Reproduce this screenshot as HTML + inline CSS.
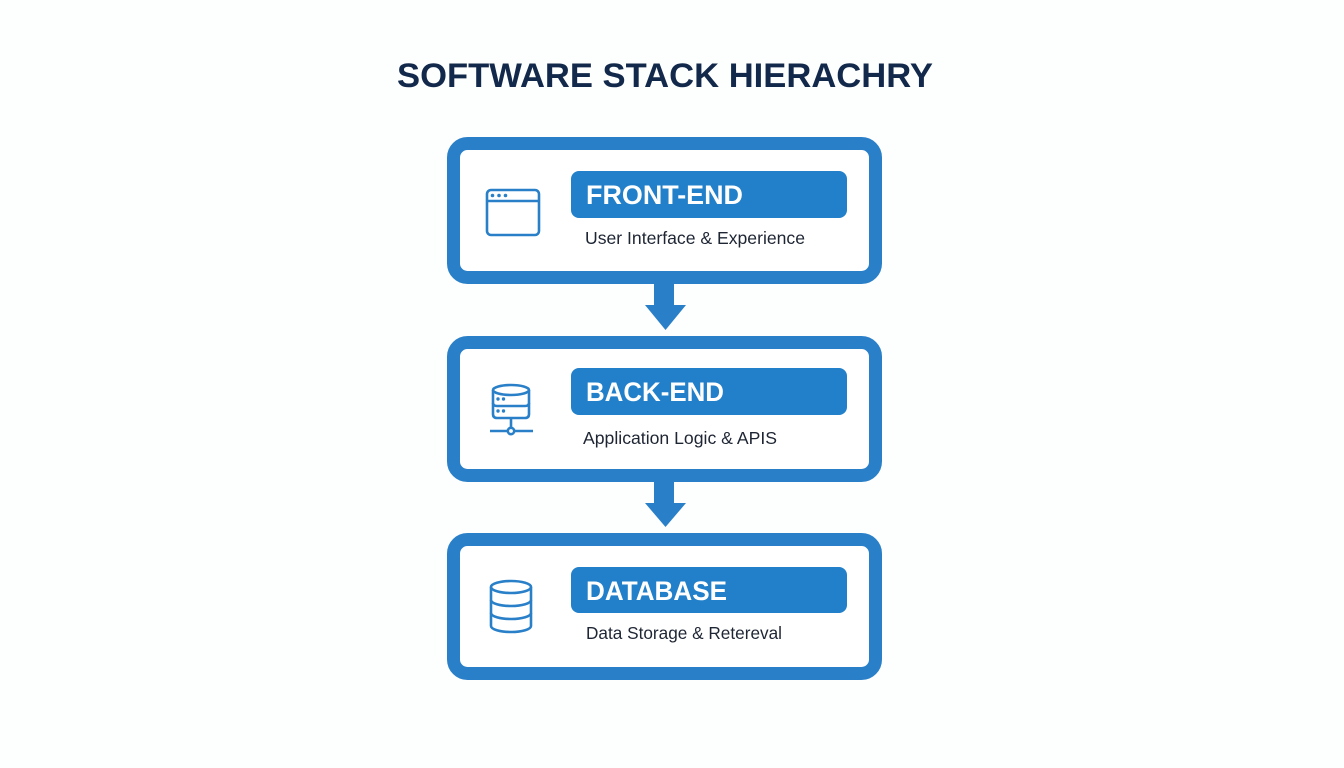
<!DOCTYPE html>
<html>
<head>
<meta charset="utf-8">
<style>
  html, body { margin: 0; padding: 0; background: #fdfefe; }
  body { width: 1344px; height: 768px; overflow: hidden; }
  svg { display: block; }
  .title { font-family: "Liberation Sans", sans-serif; font-weight: bold; fill: #13294b; }
  .pill { font-family: "Liberation Sans", sans-serif; font-weight: bold; fill: #ffffff; }
  .sub { font-family: "Liberation Sans", sans-serif; fill: #1e2533; }
</style>
</head>
<body>
<svg width="1344" height="768" viewBox="0 0 1344 768" xmlns="http://www.w3.org/2000/svg">
  <rect x="0" y="0" width="1344" height="768" fill="#fdfefe"/>

  <!-- Title -->
  <text class="title" x="397" y="87" font-size="34" textLength="536" lengthAdjust="spacingAndGlyphs">SOFTWARE STACK HIERACHRY</text>

  <!-- Box 1 -->
  <rect x="453.5" y="143.5" width="422" height="134" rx="14" ry="14" fill="#ffffff" stroke="#2a80c8" stroke-width="13"/>
  <rect x="571" y="171" width="276" height="47" rx="8" ry="8" fill="#2180c9"/>
  <text class="pill" x="586" y="204" font-size="26.5" textLength="157" lengthAdjust="spacingAndGlyphs">FRONT-END</text>
  <text class="sub" x="585" y="244" font-size="17.5" textLength="220" lengthAdjust="spacingAndGlyphs">User Interface &amp; Experience</text>
  <!-- browser icon -->
  <g fill="none" stroke="#2a80c8" stroke-width="2.6">
    <rect x="487" y="190" width="52" height="45" rx="4" ry="4"/>
    <line x1="487" y1="201" x2="539" y2="201"/>
  </g>
  <g fill="#2a80c8">
    <circle cx="492.5" cy="195.5" r="1.8"/>
    <circle cx="499" cy="195.5" r="1.8"/>
    <circle cx="505.5" cy="195.5" r="1.8"/>
  </g>

  <!-- Arrow 1 -->
  <rect x="654" y="282" width="20" height="25" fill="#2a80c8"/>
  <polygon points="645,305 686,305 665.5,330" fill="#2a80c8"/>

  <!-- Box 2 -->
  <rect x="453.5" y="342.5" width="422" height="133" rx="14" ry="14" fill="#ffffff" stroke="#2a80c8" stroke-width="13"/>
  <rect x="571" y="368" width="276" height="47" rx="8" ry="8" fill="#2180c9"/>
  <text class="pill" x="586" y="401" font-size="26.5" textLength="138" lengthAdjust="spacingAndGlyphs">BACK-END</text>
  <text class="sub" x="583" y="444" font-size="17.5" textLength="194" lengthAdjust="spacingAndGlyphs">Application Logic &amp; APIS</text>
  <!-- server icon -->
  <g fill="none" stroke="#2a80c8" stroke-width="2.6">
    <ellipse cx="511" cy="390" rx="18" ry="5"/>
    <path d="M493,390 V414 Q493,418 497,418 H525 Q529,418 529,414 V390"/>
    <path d="M493,403 Q493,406 497,406 H525 Q529,406 529,403"/>
    <line x1="511" y1="418" x2="511" y2="428"/>
    <circle cx="511" cy="431" r="3.2"/>
    <line x1="490" y1="431" x2="507.8" y2="431"/>
    <line x1="514.2" y1="431" x2="533" y2="431"/>
  </g>
  <g fill="#2a80c8">
    <circle cx="498" cy="399" r="1.7"/>
    <circle cx="503.5" cy="399" r="1.7"/>
    <circle cx="498" cy="411" r="1.7"/>
    <circle cx="503.5" cy="411" r="1.7"/>
  </g>

  <!-- Arrow 2 -->
  <rect x="654" y="480" width="20" height="25" fill="#2a80c8"/>
  <polygon points="645,503 686,503 665.5,527" fill="#2a80c8"/>

  <!-- Box 3 -->
  <rect x="453.5" y="539.5" width="422" height="134" rx="14" ry="14" fill="#ffffff" stroke="#2a80c8" stroke-width="13"/>
  <rect x="571" y="567" width="276" height="46" rx="8" ry="8" fill="#2180c9"/>
  <text class="pill" x="586" y="600" font-size="26.5" textLength="141" lengthAdjust="spacingAndGlyphs">DATABASE</text>
  <text class="sub" x="586" y="639" font-size="17.5" textLength="196" lengthAdjust="spacingAndGlyphs">Data Storage &amp; Retereval</text>
  <!-- database icon -->
  <g fill="none" stroke="#2a80c8" stroke-width="2.6">
    <ellipse cx="511" cy="587" rx="20" ry="6"/>
    <path d="M491,587 V626 A20,6 0 0 0 531,626 V587"/>
    <path d="M491,600 A20,6 0 0 0 531,600"/>
    <path d="M491,613 A20,6 0 0 0 531,613"/>
  </g>
</svg>
</body>
</html>
